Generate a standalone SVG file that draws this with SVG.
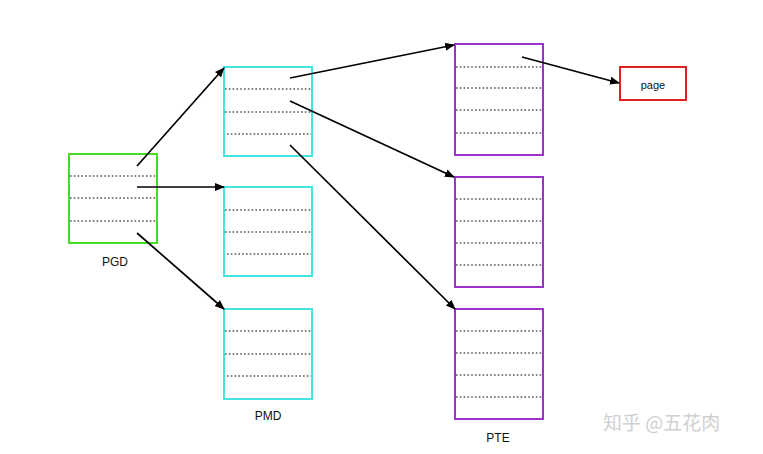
<svg xmlns="http://www.w3.org/2000/svg" width="763" height="454" viewBox="0 0 763 454">
<defs>
<marker id="ah" viewBox="0 0 10 10" refX="9" refY="5" markerWidth="10" markerHeight="10" markerUnits="userSpaceOnUse" orient="auto">
<path d="M0,1 L10,5 L0,9 z" fill="#000"/>
</marker>
<style>
.box{fill:#fff;stroke-width:2}
.g{stroke:#44dd22}
.c{stroke:#44e4e0}
.p{stroke:#9933cc}
.r{stroke:#dd2020}
.dot{stroke:#555;stroke-width:1.3;stroke-dasharray:1.6 2.2;fill:none}
.lbl{font-family:"Liberation Sans",Arial,sans-serif;font-size:12px;fill:#111;text-anchor:middle}
.conn line{stroke:#000;stroke-width:1.7;marker-end:url(#ah)}
.wm{font-family:"Noto Sans CJK SC","Liberation Sans",sans-serif;font-size:19px;fill:#d0d0d0}
</style>
</defs>
<rect width="763" height="454" fill="#fff"/>
<g id="pgd">
<rect class="box g" x="69" y="154" width="88" height="89"/>
<path class="dot" d="M70 176H156M70 198H156M70 221H156"/>
<text class="lbl" x="115" y="266">PGD</text>
</g>
<g id="pmd1">
<rect class="box c" x="224" y="67" width="88" height="89"/>
<path class="dot" d="M225 89H311M225 112H311M227 134H311"/>
</g>
<g id="pmd2">
<rect class="box c" x="224" y="187" width="88" height="89"/>
<path class="dot" d="M225 210H311M225 232H311M227 254H311"/>
</g>
<g id="pmd3">
<rect class="box c" x="224" y="309" width="88" height="90"/>
<path class="dot" d="M225 331H311M225 354H311M227 376H311"/>
<text class="lbl" x="268" y="420">PMD</text>
</g>
<g id="pte1">
<rect class="box p" x="455" y="44" width="88" height="111"/>
<path class="dot" d="M456 67H542M456 88H542M456 110H542M456 133H542"/>
</g>
<g id="pte2">
<rect class="box p" x="455" y="177" width="88" height="110"/>
<path class="dot" d="M456 199H542M456 221H542M456 243H542M456 265H542"/>
</g>
<g id="pte3">
<rect class="box p" x="455" y="309" width="88" height="110"/>
<path class="dot" d="M456 331H542M456 353H542M456 375H542M456 397H542"/>
<text class="lbl" x="498" y="442">PTE</text>
</g>
<g id="page">
<rect class="box r" x="620" y="67" width="66" height="33"/>
<text class="lbl" x="653" y="89" style="font-size:11px">page</text>
</g>
<g class="conn">
<line x1="137" y1="166" x2="224" y2="68"/>
<line x1="137" y1="187" x2="224" y2="187"/>
<line x1="137" y1="233" x2="224" y2="309"/>
<line x1="290" y1="78" x2="454" y2="45"/>
<line x1="290" y1="101" x2="454" y2="177"/>
<line x1="290" y1="145" x2="455" y2="309"/>
<line x1="522" y1="57" x2="619" y2="83"/>
</g>
<text class="wm" x="603" y="430">知乎 @五花肉</text>
</svg>
